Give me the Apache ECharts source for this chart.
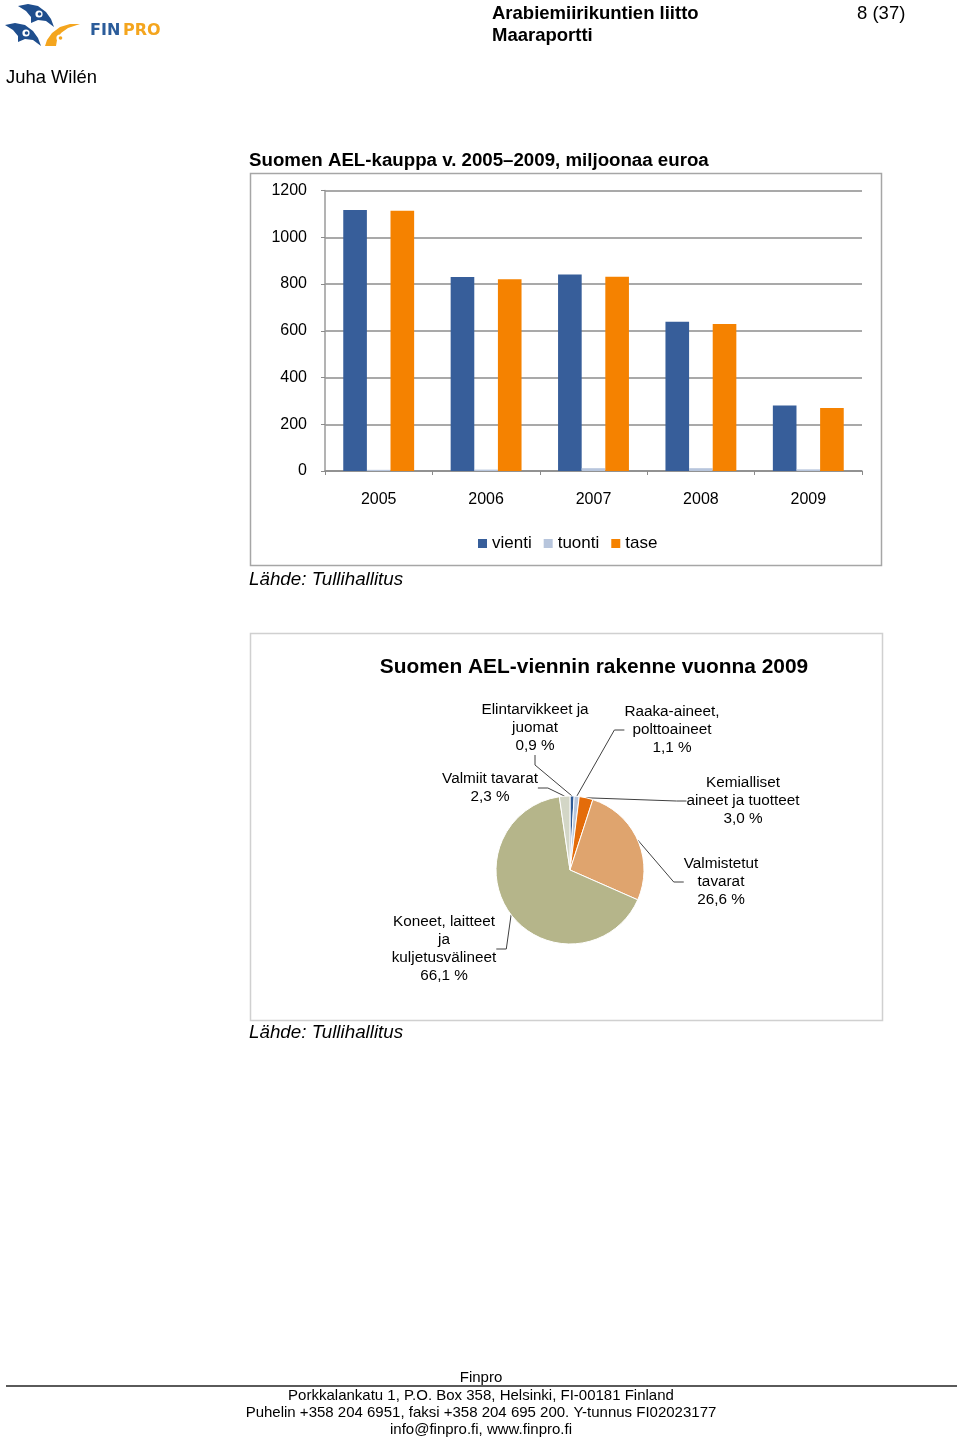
<!DOCTYPE html>
<html>
<head>
<meta charset="utf-8">
<script src="https://cdn.jsdelivr.net/npm/echarts@6/dist/echarts.min.js"></script>
<style>
html,body{margin:0;padding:0;background:#fff;}
#main{width:960px;height:1440px;}
</style>
</head>
<body>
<div id="main"></div>
<script>
// ---- data ----
const years = ['2005', '2006', '2007', '2008', '2009'];
const vienti = [1117, 830, 841, 639, 280];
const tuonti = [5, 6, 12, 12, 7];
const tase = [1113, 820, 831, 629, 269];
const seriesNames = ['vienti', 'tuonti', 'tase'];

const pieNames = ['Elintarvikkeet ja\njuomat', 'Raaka-aineet,\npolttoaineet', 'Kemialliset\naineet ja tuotteet', 'Valmistetut\ntavarat', 'Koneet, laitteet\nja\nkuljetusvälineet', 'Valmiit tavarat'];
const pieShares = [0.9, 1.1, 3.0, 26.6, 66.1, 2.3];

// ---- styles ----
const FONT = '"Liberation Sans", Arial, sans-serif';
const barColors = ['#375E9A', '#B7C5DC', '#F58200'];
const pieColors = ['#2F5B96', '#B8C6DB', '#E46C0A', '#DFA46E', '#B5B58A', '#D3D6C6'];
const pieLabelPos = [[535, 728], [672, 730], [743, 801], [721, 882], [444, 949], [490, 788]];

const chart = echarts.init(document.getElementById('main'), null, {renderer: 'canvas'});

function txt(x, y, text, size, opts) {
  opts = opts || {};
  return {
    type: 'text', x: x, y: y, silent: true,
    style: {
      text: text, fill: opts.color || '#000',
      font: (opts.italic ? 'italic ' : '') + (opts.bold ? 'bold ' : '') + size + 'px ' + FONT,
      textAlign: opts.align || 'left', textVerticalAlign: 'middle'
    }
  };
}
function shiftPts(pts, dx, dy) { return pts.map(p => [p[0] + dx, p[1] + dy]); }
const birdPts = [[18,6],[28,4],[38,6],[46,12],[51,19],[54,27],[46,21],[38,20],[31,23],[31,17],[26,11]];
const orangePts = [[80,24],[70,24],[60,27],[52,33],[47,40],[45,46],[56,46],[57,40],[61,33],[68,28]];

const graphics = [
  // logo
  {type: 'polygon', shape: {points: birdPts}, style: {fill: '#1F4E8D'}, silent: true},
  {type: 'circle', shape: {cx: 39, cy: 14, r: 3.6}, style: {fill: '#fff'}, silent: true},
  {type: 'circle', shape: {cx: 39.5, cy: 14, r: 1.8}, style: {fill: '#1F4E8D'}, silent: true},
  {type: 'polygon', shape: {points: shiftPts(birdPts, -13, 19)}, style: {fill: '#1F4E8D'}, silent: true},
  {type: 'circle', shape: {cx: 26, cy: 33, r: 3.6}, style: {fill: '#fff'}, silent: true},
  {type: 'circle', shape: {cx: 26.5, cy: 33, r: 1.8}, style: {fill: '#1F4E8D'}, silent: true},
  {type: 'polygon', shape: {points: orangePts}, style: {fill: '#F4A51E'}, silent: true},
  {type: 'circle', shape: {cx: 60, cy: 38, r: 3.6}, style: {fill: '#fff'}, silent: true},
  {type: 'circle', shape: {cx: 60.5, cy: 38, r: 1.8}, style: {fill: '#F4A51E'}, silent: true},
  {type: 'text', x: 90, y: 31, silent: true, style: {text: 'FIN', fill: '#2B5C9A', font: 'bold 16px "DejaVu Sans", sans-serif', textVerticalAlign: 'middle'}},
  {type: 'text', x: 123, y: 31, silent: true, style: {text: 'PRO', fill: '#F4A51E', font: 'bold 16px "DejaVu Sans", sans-serif', textVerticalAlign: 'middle'}},
  // header
  txt(492, 14, 'Arabiemiirikuntien liitto', 18.5, {bold: true}),
  txt(492, 36, 'Maaraportti', 18.5, {bold: true}),
  txt(857, 14, '8 (37)', 18.5),
  txt(6, 78, 'Juha Wilén', 18.4),
  // bar chart frame and texts
  {type: 'rect', shape: {x: 250.5, y: 173.5, width: 631, height: 392}, style: {fill: 'none', stroke: '#A6A6A6', lineWidth: 1.5}, silent: true, z: -1},
  txt(249, 161, 'Suomen AEL-kauppa v. 2005–2009, miljoonaa euroa', 18.7, {bold: true}),
  txt(249, 580, 'Lähde: Tullihallitus', 18.8, {italic: true}),
  // pie frame and texts
  {type: 'rect', shape: {x: 250.5, y: 633.5, width: 632, height: 387}, style: {fill: 'none', stroke: '#D0D0D0', lineWidth: 1.5}, silent: true, z: -1},
  txt(594, 667, 'Suomen AEL-viennin rakenne vuonna 2009', 20.9, {bold: true, align: 'center'}),
  txt(249, 1033, 'Lähde: Tullihallitus', 18.8, {italic: true}),
  // footer
  txt(481, 1378, 'Finpro', 15, {align: 'center'}),
  {type: 'line', shape: {x1: 6, y1: 1386, x2: 957, y2: 1386}, style: {stroke: '#5A5A5A', lineWidth: 2}, silent: true},
  txt(481, 1396, 'Porkkalankatu 1, P.O. Box 358, Helsinki, FI-00181 Finland', 15, {align: 'center'}),
  txt(481, 1413, 'Puhelin +358 204 6951, faksi +358 204 695 200. Y-tunnus FI02023177', 15, {align: 'center'}),
  txt(481, 1430, 'info@finpro.fi, www.finpro.fi', 15, {align: 'center'})
];

const barData = [vienti, tuonti, tase];

const option = {
  animation: false,
  textStyle: {fontFamily: FONT},
  graphic: graphics,
  legend: {
    data: seriesNames,
    left: 473, top: 530,
    icon: 'rect', itemWidth: 9, itemHeight: 9, itemGap: 12,
    textStyle: {fontSize: 17, color: '#000', fontFamily: FONT},
    selectedMode: false
  },
  grid: {left: 325, top: 190.5, width: 537, height: 280.5, containLabel: false},
  xAxis: {
    type: 'category', data: years,
    axisLine: {lineStyle: {color: '#8A8A8A', width: 1.5}},
    axisTick: {show: true, length: 4, lineStyle: {color: '#8A8A8A'}},
    axisLabel: {fontSize: 16, color: '#000', margin: 21, fontFamily: FONT}
  },
  yAxis: {
    type: 'value', min: 0, max: 1200, interval: 200,
    axisLine: {show: true, lineStyle: {color: '#9A9A9A', width: 1.5}},
    axisTick: {show: true, length: 4, lineStyle: {color: '#8A8A8A'}},
    splitLine: {lineStyle: {color: '#8C8C8C', width: 1.5}},
    axisLabel: {fontSize: 16, color: '#000', margin: 18, fontFamily: FONT, padding: [4, 0, 0, 0], formatter: v => String(v)}
  },
  series: seriesNames.map((n, i) => ({
    name: n, type: 'bar', data: barData[i],
    barGap: '0%', barCategoryGap: '34%',
    itemStyle: {color: barColors[i]}
  })).concat([{
    name: 'rakenne', type: 'pie',
    center: [570, 870], radius: 74, startAngle: 90, clockwise: true,
    data: pieNames.map((n, i) => ({name: n, value: pieShares[i], itemStyle: {color: pieColors[i]}})),
    itemStyle: {borderColor: '#fff', borderWidth: 1},
    label: {
      show: true, position: 'outside', color: '#000', fontSize: 15.3, lineHeight: 18,
      fontFamily: FONT, align: 'center',
      formatter: p => p.name + '\n' + p.value.toFixed(1).replace('.', ',') + ' %'
    },
    labelLine: {show: true, length: 10, length2: 10, lineStyle: {color: '#404040', width: 1}},
    labelLayout: function (params) {
      const pos = pieLabelPos[params.dataIndex];
      return {x: pos[0], y: pos[1], align: 'center', verticalAlign: 'middle'};
    },
    emphasis: {disabled: true}
  }])
};
chart.setOption(option);
</script>
</body>
</html>
